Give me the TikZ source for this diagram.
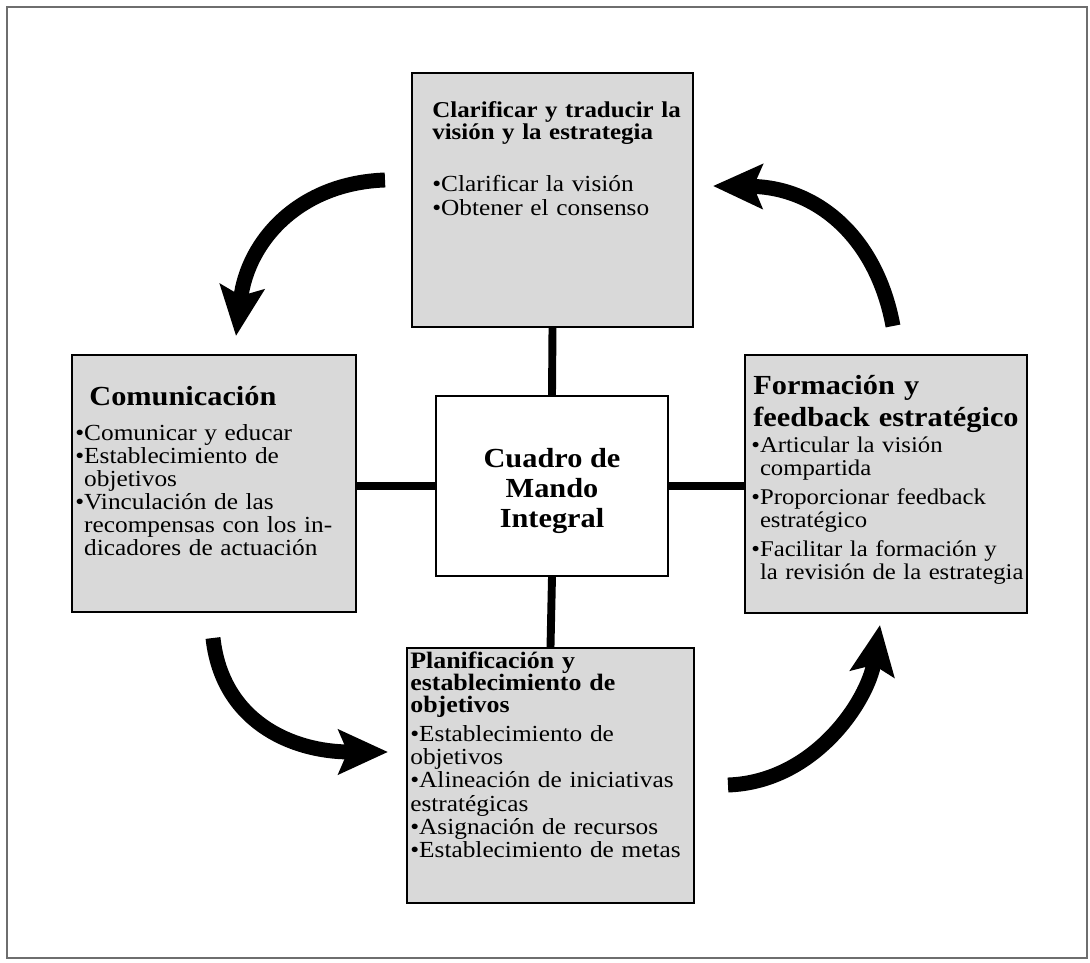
\documentclass[tikz,border=0pt]{standalone}
\usepackage{fontspec}
\setmainfont{Liberation Serif}[FakeStretch=1.1]
\usetikzlibrary{arrows.meta, positioning, calc}
\definecolor{panelgray}{RGB}{217,217,217}
\definecolor{framegray}{RGB}{110,110,110}
\newcommand{\bul}{\textbullet}
\newcommand{\bulgap}{\phantom{\textbullet}}

\begin{document}
\begin{tikzpicture}[x=0.02cm, y=-0.02cm,
    panel/.style={draw=black, line width=1pt, fill=panelgray, inner sep=0pt},
    boxtitle/.style={anchor=base west, inner sep=0pt, align=left, text width=7cm,
                     font=\bfseries\fontsize{15.7}{18.2}\selectfont},
    boxitems/.style={anchor=base west, inner sep=0pt, align=left, text width=7cm,
                     font=\fontsize{13.1}{13.1}\selectfont},
    link/.style={line width=4.5pt},
    cyclearrow/.style={line width=8.5pt, -{Stealth[length=28pt, width=25pt, inset=5pt]}}]

    \useasboundingbox (0,0) rectangle (1090,963);
    \draw[framegray, line width=0.8pt] (7,7) rectangle (1087,958);

    % the four perspectives and the centre
    \node[panel, minimum width=5.62cm, minimum height=5.08cm] (vision) at (552.5,200) {};
    \node[panel, minimum width=5.68cm, minimum height=5.14cm] (comm) at (214,483.5) {};
    \node[panel, minimum width=5.64cm, minimum height=5.16cm] (learn) at (886,484) {};
    \node[panel, minimum width=5.74cm, minimum height=5.10cm] (plan) at (550.5,775.5) {};
    \node[draw=black, line width=1pt, fill=white, minimum width=4.64cm, minimum height=3.6cm]
          (cmi) at (552,486) {};
    \node[align=center, font=\bfseries\fontsize{15.7}{17}\selectfont] (cmitext) at (552,491)
          {Cuadro de\\Mando\\Integral};

    \draw[link] (vision.south) -- (cmi.north);
    \draw[link] (cmi.west -| comm.east) -- (cmi.west);
    \draw[link] (cmi.east) -- (cmi.east -| learn.west);
    \draw[link] (cmi.south) -- (plan.north);

    % texts
    \node[boxtitle, font=\bfseries\fontsize{12.9}{12.5}\selectfont] (visiontitle) at (432,118)
        {Clarificar y traducir la\\visión y la estrategia};
    \node[boxitems] (visionitems) at (432,192)
        {\bul Clarificar la visión\\\bul Obtener el consenso};

    \node[boxtitle] (commtitle) at (89,405) {Comunicación};
    \node[boxitems] (commitems) at (75,440)
        {\bul Comunicar y educar\\\bul Establecimiento de\\\bulgap objetivos\\
         \bul Vinculación de las\\\bulgap recompensas con los in-\\\bulgap dicadores de actuación};

    \node[boxtitle] (learntitle) at (753,395) {Formación y\\feedback estratégico};
    \node[boxitems, font=\fontsize{12.8}{13.1}\selectfont] (learnitems) at (751,452)
        {\bul Articular la visión\\\bulgap compartida\\[3.5pt]
         \bul Proporcionar feedback\\\bulgap estratégico\\[3.5pt]
         \bul Facilitar la formación y\\\bulgap la revisión de la estrategia};

    \node[boxtitle, font=\bfseries\fontsize{13.4}{12.8}\selectfont] (plantitle) at (410,668)
        {Planificación y\\establecimiento de\\objetivos};
    \node[boxitems, font=\fontsize{13.1}{13.3}\selectfont] (planitems) at (410,741)
        {\bul Establecimiento de\\objetivos\\\bul Alineación de iniciativas\\estratégicas\\
         \bul Asignación de recursos\\\bul Establecimiento de metas};

    % cycle arrows
    \coordinate (toptail) at (385,180);
    \coordinate (toptip) at (236,336);
    \coordinate (lefttail) at (213,638);
    \coordinate (lefttip) at (388,752);
    \coordinate (bottail) at (728,785);
    \coordinate (bottip) at (880,625);
    \coordinate (righttail) at (893,326);
    \coordinate (righttip) at (713,186);
    \draw[cyclearrow] (toptail) .. controls (300,183) and (248,240) .. (toptip);
    \draw[cyclearrow] (lefttail) .. controls (222,720) and (290,752) .. (lefttip);
    \draw[cyclearrow] (bottail) .. controls (815,782) and (868,700) .. (bottip);
    \draw[cyclearrow] (righttail) .. controls (876,235) and (815,187) .. (righttip);
\end{tikzpicture}
\end{document}
